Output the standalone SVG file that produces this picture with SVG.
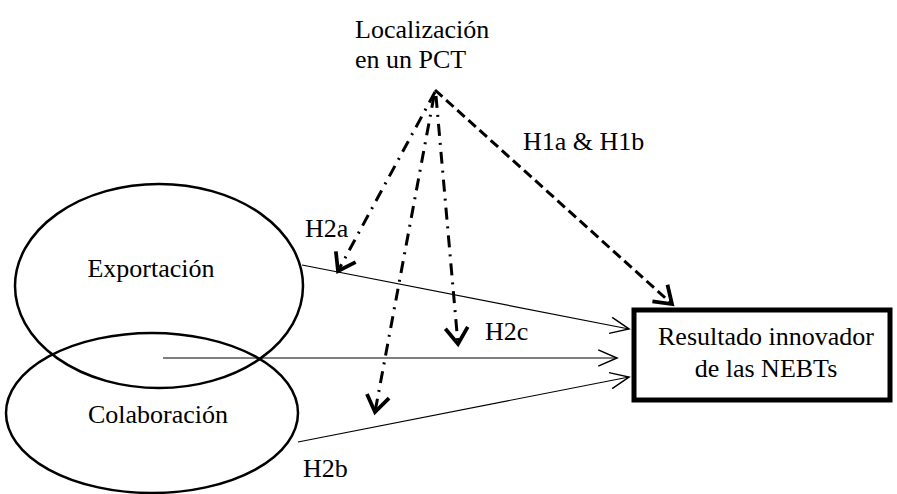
<svg xmlns="http://www.w3.org/2000/svg" width="897" height="494" viewBox="0 0 897 494">
<defs>
<style>
text{font-family:"Liberation Serif","Times New Roman",serif;font-size:26px;fill:#000}
.ell{fill:none;stroke:#000;stroke-width:2.5}
.thin{fill:none;stroke:#000;stroke-width:1.2}
.dash{fill:none;stroke:#000;stroke-width:3;stroke-dasharray:10 5}
.dd{fill:none;stroke:#000;stroke-width:3;stroke-dasharray:12 7 2 7}
</style>
<marker id="ah" markerUnits="userSpaceOnUse" markerWidth="30" markerHeight="30" viewBox="-16 -12 20 24" refX="0" refY="0" orient="auto">
<path d="M-13,-9 L0,0 L-13,9" fill="none" stroke="#000" stroke-width="3"/>
</marker>
<marker id="at" markerUnits="userSpaceOnUse" markerWidth="30" markerHeight="30" viewBox="-16 -12 20 24" refX="0" refY="0" orient="auto">
<path d="M-15,-6.5 L0,0 L-15,6.5" fill="none" stroke="#000" stroke-width="1.2"/>
</marker>
</defs>
<rect width="897" height="494" fill="#fff"/>
<g id="pct">
<text x="355" y="38">Localización</text>
<text x="355" y="68">en un PCT</text>
</g>
<g id="exportacion">
<ellipse class="ell" cx="159" cy="286" rx="144" ry="102"/>
<text x="151" y="277" text-anchor="middle">Exportación</text>
</g>
<g id="colaboracion">
<ellipse class="ell" cx="152" cy="413" rx="146" ry="80"/>
<text x="158" y="423" text-anchor="middle">Colaboración</text>
</g>
<g id="resultado">
<rect x="634" y="310" width="256" height="90" fill="#fff" stroke="#000" stroke-width="5"/>
<text x="766" y="345" text-anchor="middle">Resultado innovador</text>
<text x="766" y="377" text-anchor="middle">de las NEBTs</text>
</g>
<g id="connectors">
<line class="thin" x1="302" y1="265" x2="629" y2="329" marker-end="url(#at)"/>
<line class="thin" x1="163" y1="358" x2="617" y2="358" marker-end="url(#at)"/>
<line class="thin" x1="298" y1="442" x2="629" y2="377" marker-end="url(#at)"/>
<line class="dash" x1="435" y1="90" x2="672" y2="304" marker-end="url(#ah)"/>
<line class="dd" x1="435" y1="92" x2="338" y2="271" marker-end="url(#ah)"/>
<line class="dd" x1="434" y1="96" x2="375" y2="412" marker-end="url(#ah)"/>
<line class="dd" x1="436" y1="96" x2="458" y2="344" marker-end="url(#ah)"/>
<text x="523" y="150">H1a &amp; H1b</text>
<text x="305" y="237">H2a</text>
<text x="485" y="340">H2c</text>
<text x="303" y="477">H2b</text>
</g>
</svg>
